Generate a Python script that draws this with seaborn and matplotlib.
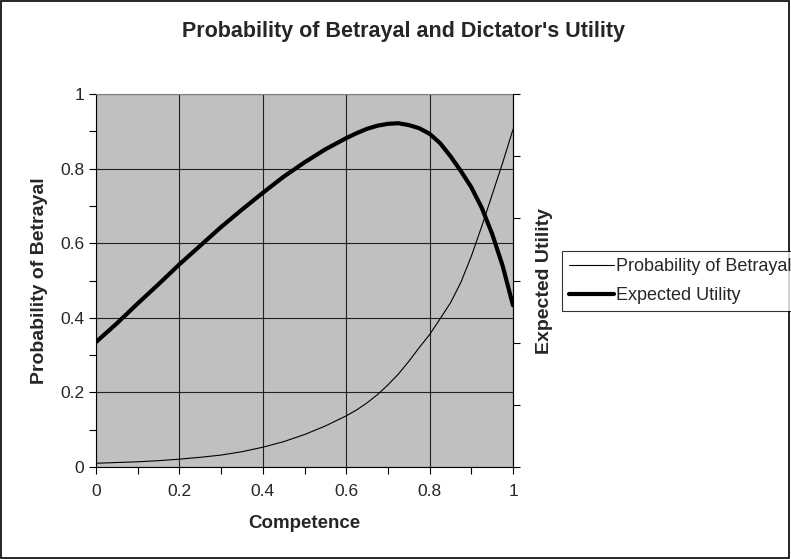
import numpy as np
import pandas as pd
import seaborn as sns
import matplotlib.pyplot as plt
from matplotlib.lines import Line2D
from matplotlib.patches import Rectangle

competence = [0.0, 0.05, 0.1, 0.15, 0.2, 0.25, 0.3, 0.35, 0.4, 0.45, 0.5, 0.55, 0.6,
              0.625, 0.65, 0.675, 0.7, 0.725, 0.75, 0.775, 0.8, 0.825, 0.85, 0.875,
              0.9, 0.925, 0.95, 0.975, 1.0]
prob_betrayal = [0.010, 0.012, 0.014, 0.017, 0.021, 0.026, 0.032, 0.041, 0.053, 0.068, 0.087,
                 0.110, 0.137, 0.153, 0.172, 0.194, 0.220, 0.249, 0.283, 0.320, 0.355,
                 0.397, 0.440, 0.495, 0.565, 0.645, 0.730, 0.815, 0.905]
# expected utility, read against the (unlabelled) right axis 0 - 0.6
exp_utility = [0.201, 0.231, 0.263, 0.294, 0.326, 0.356, 0.386, 0.414, 0.441, 0.467, 0.490,
               0.511, 0.529, 0.537, 0.544, 0.549, 0.552, 0.553, 0.550, 0.545, 0.536,
               0.521, 0.500, 0.476, 0.450, 0.417, 0.375, 0.324, 0.260]

df = pd.DataFrame({'Competence': competence, 'PB': prob_betrayal, 'EU': exp_utility})

sns.set_style('white')
plt.rcParams['font.family'] = ['Liberation Sans', 'DejaVu Sans']

fig = plt.figure(figsize=(7.91, 5.59), dpi=100)
ax = fig.add_axes([96/791, 1-467/559, 417/791, 373/559])
ax.set_facecolor('#C0C0C0')

sns.lineplot(data=df, x='Competence', y='PB', ax=ax, color='black', linewidth=0.8)
ax.set_xlim(0, 1)
ax.set_ylim(0, 1)
ax.set_xticks(np.arange(0, 1.01, 0.2))
ax.set_xticklabels(['0', '0.2', '0.4', '0.6', '0.8', '1'])
ax.set_yticks(np.arange(0, 1.01, 0.2))
ax.set_yticklabels(['0', '0.2', '0.4', '0.6', '0.8', '1'])
ax.set_xticks(np.arange(0.1, 1.0, 0.2), minor=True)
ax.set_yticks(np.arange(0.1, 1.0, 0.2), minor=True)
ax.grid(True, which='major', color='#202020', linewidth=0.8)
ax.tick_params(which='both', direction='out', length=5, width=0.8, color='black',
               labelsize=12.5, left=True, bottom=True)
ax.tick_params(axis='x', pad=7)
ax.set_xlabel('Competence', fontsize=13.5, fontweight='bold', labelpad=12)
ax.set_ylabel('Probability of Betrayal', fontsize=14, fontweight='bold', labelpad=9)
for s in ax.spines.values():
    s.set_color('#808080')
    s.set_linewidth(0.8)
ax.spines['left'].set_color('black')
ax.spines['bottom'].set_color('black')

ax2 = ax.twinx()
sns.lineplot(data=df, x='Competence', y='EU', ax=ax2, color='black', linewidth=3.0)
ax2.set_ylim(0, 0.6)
ax2.set_yticks(np.arange(0, 0.61, 0.1))
ax2.set_yticklabels([])
ax2.tick_params(axis='y', direction='out', length=5, width=0.8, color='black', right=True)
ax2.set_ylabel('Expected Utility', fontsize=14, fontweight='bold', labelpad=8)
ax2.spines['right'].set_color('black')
ax2.spines['right'].set_linewidth(0.8)
ax2.spines['top'].set_visible(False)
ax2.spines['left'].set_visible(False)
ax2.spines['bottom'].set_visible(False)

fig.suptitle("Probability of Betrayal and Dictator's Utility", fontsize=15.5,
             fontweight='bold', x=404/791, y=1-32/559, va='center')

handles = [Line2D([], [], color='black', linewidth=0.8),
           Line2D([], [], color='black', linewidth=3.0)]
leg = fig.legend(handles, ['Probability of Betrayal', 'Expected Utility'],
                 loc='upper left', bbox_to_anchor=(562/791, 1-251/559),
                 fontsize=13, frameon=True, fancybox=False, handlelength=2.5,
                 handletextpad=0.1, borderpad=0.4, labelspacing=0.65, borderaxespad=0)
leg.get_frame().set_edgecolor('black')
leg.get_frame().set_linewidth(0.8)

fig.patches.append(Rectangle((0.001, 0.001), 0.997, 0.997, transform=fig.transFigure,
                             fill=False, edgecolor='black', linewidth=1.2))

fig.savefig('out.png', dpi=100)
